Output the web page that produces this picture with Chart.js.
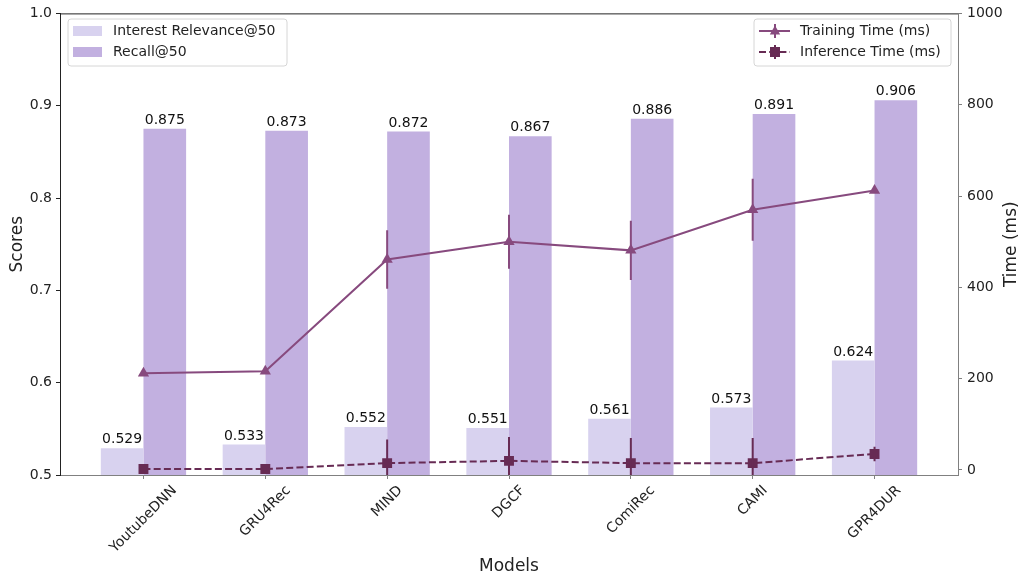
<!DOCTYPE html>
<html>
<head>
<meta charset="utf-8">
<script src="https://cdn.jsdelivr.net/npm/chart.js@4/dist/chart.umd.min.js"></script>
<style>
  body { margin: 0; background: #fff; }
  #wrap { width: 1026px; height: 580px; }
</style>
</head>
<body>
<div id="wrap"><canvas id="scores-time" width="1026" height="580"></canvas></div>
<script>
// data
var models = ["YoutubeDNN", "GRU4Rec", "MIND", "DGCF", "ComiRec", "CAMI", "GPR4DUR"];
var interestRelevance = [0.529, 0.533, 0.552, 0.551, 0.561, 0.573, 0.624];
var recall = [0.875, 0.873, 0.872, 0.867, 0.886, 0.891, 0.906];
var trainingTime = [212, 216, 461, 500, 481, 570, 612];
var trainingErr = [0, 0, 64, 59, 65, 68, 5];
var inferenceTime = [2, 2, 15, 20, 15, 15, 35];
var inferenceErr = [0, 0, 52, 52, 55, 55, 16];
var scoreTicks = [0.5, 0.6, 0.7, 0.8, 0.9, 1.0];
var timeTicks = [0, 200, 400, 600, 800, 1000];

var lightBar = "#d8d2ef";
var darkBar = "#c2b0e0";
var trainColor = "#874a7e";
var inferColor = "#672b54";
var FONT = "'DejaVu Sans', sans-serif";
var DASH = [7, 3.2];

Chart.defaults.font.family = FONT;
Chart.defaults.font.size = 14;
Chart.defaults.color = "#222";

function pts(vals) {
    return vals.map(function(v, i) { return {x: i, y: v}; });
}

function triangle(ctx, x, y, r) {
    ctx.beginPath();
    ctx.moveTo(x, y - r);
    ctx.lineTo(x + r * 0.866, y + r * 0.5);
    ctx.lineTo(x - r * 0.866, y + r * 0.5);
    ctx.closePath();
    ctx.fill();
}

function legendFrame(ctx, x, y, w, h) {
    ctx.save();
    ctx.beginPath();
    ctx.roundRect(x, y, w, h, 3);
    ctx.fillStyle = "rgba(255,255,255,0.8)";
    ctx.fill();
    ctx.strokeStyle = "#d6d6d6";
    ctx.lineWidth = 1;
    ctx.stroke();
    ctx.restore();
}

var extras = {
    id: 'extras',
    afterDatasetsDraw: function(chart) {
        var ctx = chart.ctx, a = chart.chartArea;
        var x = chart.scales.x, y2 = chart.scales.y2;
        ctx.save();
        ctx.beginPath();
        ctx.rect(a.left, a.top, a.right - a.left, a.bottom - a.top);
        ctx.clip();
        [[trainingTime, trainingErr, trainColor], [inferenceTime, inferenceErr, inferColor]].forEach(function(s) {
            ctx.strokeStyle = s[2];
            ctx.lineWidth = 2;
            s[0].forEach(function(v, i) {
                if (!s[1][i]) return;
                var px = x.getPixelForValue(i);
                ctx.beginPath();
                ctx.moveTo(px, y2.getPixelForValue(v - s[1][i]));
                ctx.lineTo(px, y2.getPixelForValue(v + s[1][i]));
                ctx.stroke();
            });
        });
        ctx.restore();

        // values over the bars
        ctx.save();
        ctx.fillStyle = "#111";
        ctx.font = "14px " + FONT;
        ctx.textAlign = "center";
        ctx.textBaseline = "alphabetic";
        [[0, interestRelevance], [1, recall]].forEach(function(s) {
            chart.getDatasetMeta(s[0]).data.forEach(function(bar, i) {
                ctx.fillText(s[1][i].toFixed(3), bar.x, bar.y - 5);
            });
        });
        ctx.restore();
    },
    afterDraw: function(chart) {
        var ctx = chart.ctx, a = chart.chartArea, x = chart.scales.x;
        ctx.save();
        // top spine
        ctx.strokeStyle = "#222";
        ctx.lineWidth = 1;
        ctx.beginPath();
        ctx.moveTo(a.left, a.top + 0.5);
        ctx.lineTo(a.right, a.top + 0.5);
        ctx.stroke();

        // rotated category labels
        ctx.fillStyle = "#222";
        ctx.font = "14px " + FONT;
        ctx.textAlign = "center";
        ctx.textBaseline = "middle";
        models.forEach(function(m, i) {
            var px = x.getPixelForValue(i);
            var w = ctx.measureText(m).width;
            var d = (w + 15) * Math.SQRT1_2;
            ctx.save();
            ctx.translate(px, a.bottom + 8 + d / 2);
            ctx.rotate(-Math.PI / 4);
            ctx.fillText(m, 0, 0);
            ctx.restore();
        });

        // axis titles
        ctx.font = "17px " + FONT;
        ctx.fillText("Models", (a.left + a.right) / 2, 567);
        var midY = (a.top + a.bottom) / 2;
        ctx.save();
        ctx.translate(18, midY);
        ctx.rotate(-Math.PI / 2);
        ctx.fillText("Scores", 0, 0);
        ctx.restore();
        ctx.save();
        ctx.translate(1012, midY);
        ctx.rotate(-Math.PI / 2);
        ctx.fillText("Time (ms)", 0, 0);
        ctx.restore();

        // left legend
        ctx.font = "14px " + FONT;
        ctx.textAlign = "left";
        legendFrame(ctx, 68, 19, 219, 47);
        ctx.fillStyle = lightBar;
        ctx.fillRect(73, 26, 29, 10);
        ctx.fillStyle = darkBar;
        ctx.fillRect(73, 47, 29, 10);
        ctx.fillStyle = "#222";
        ctx.fillText("Interest Relevance@50", 113, 31);
        ctx.fillText("Recall@50", 113, 52);

        // right legend
        legendFrame(ctx, 754, 19, 197, 47);
        ctx.lineWidth = 2;
        ctx.strokeStyle = trainColor;
        ctx.fillStyle = trainColor;
        ctx.beginPath();
        ctx.moveTo(759, 31); ctx.lineTo(790, 31);
        ctx.moveTo(775, 24); ctx.lineTo(775, 38);
        ctx.stroke();
        triangle(ctx, 775, 31.5, 6);
        ctx.strokeStyle = inferColor;
        ctx.fillStyle = inferColor;
        ctx.setLineDash(DASH);
        ctx.beginPath();
        ctx.moveTo(759, 52); ctx.lineTo(790, 52);
        ctx.stroke();
        ctx.setLineDash([]);
        ctx.beginPath();
        ctx.moveTo(775, 45); ctx.lineTo(775, 59);
        ctx.stroke();
        ctx.fillRect(770, 47, 10, 10);
        ctx.fillStyle = "#222";
        ctx.fillText("Training Time (ms)", 800, 31);
        ctx.fillText("Inference Time (ms)", 800, 52);
        ctx.restore();
    }
};

new Chart(document.getElementById("scores-time"), {
    type: 'bar',
    data: {
        datasets: [
            {
                label: "Interest Relevance@50",
                data: pts(interestRelevance),
                backgroundColor: lightBar,
                yAxisID: 'y',
                order: 1
            }, {
                label: "Recall@50",
                data: pts(recall),
                backgroundColor: darkBar,
                yAxisID: 'y',
                order: 1
            }, {
                type: 'line',
                label: "Training Time (ms)",
                data: pts(trainingTime),
                borderColor: trainColor,
                backgroundColor: trainColor,
                borderWidth: 2,
                pointStyle: 'triangle',
                pointRadius: 6.5,
                pointBorderWidth: 0,
                yAxisID: 'y2',
                order: 0
            }, {
                type: 'line',
                label: "Inference Time (ms)",
                data: pts(inferenceTime),
                borderColor: inferColor,
                backgroundColor: inferColor,
                borderWidth: 2,
                borderDash: DASH,
                pointStyle: 'rect',
                pointRadius: 7,
                pointBorderWidth: 0,
                yAxisID: 'y2',
                order: 0
            }
        ]
    },
    options: {
        responsive: false,
        animation: false,
        devicePixelRatio: 1,
        layout: { padding: { top: 12, left: 0, right: 0, bottom: 0 } },
        categoryPercentage: 0.7,
        barPercentage: 1.0,
        plugins: {
            legend: { display: false },
            tooltip: { enabled: false },
            title: { display: false }
        },
        scales: {
            x: {
                type: 'linear',
                offset: false,
                min: -0.685,
                max: 6.685,
                afterBuildTicks: function(s) { s.ticks = models.map(function(m, i) { return {value: i}; }); },
                afterFit: function(s) { s.height = 105; },
                ticks: { display: false },
                grid: { offset: false, drawOnChartArea: false, tickLength: 4, color: '#808080' },
                border: { color: '#808080' }
            },
            y: {
                position: 'left',
                min: 0.5,
                max: 1.0,
                afterBuildTicks: function(s) { s.ticks = scoreTicks.map(function(v) { return {value: v}; }); },
                afterFit: function(s) { s.width = 60; },
                ticks: { padding: 4, callback: function(v) { return v.toFixed(1); } },
                grid: { drawOnChartArea: false, tickLength: 4, color: '#222' },
                border: { color: '#222' }
            },
            y2: {
                position: 'right',
                min: -11,
                max: 1000,
                afterBuildTicks: function(s) { s.ticks = timeTicks.map(function(v) { return {value: v}; }); },
                afterFit: function(s) { s.width = 68; },
                ticks: { padding: 5, callback: function(v) { return String(v); } },
                grid: { drawOnChartArea: false, tickLength: 4, color: '#808080' },
                border: { color: '#808080' }
            }
        }
    },
    plugins: [extras]
});
</script>
</body>
</html>
